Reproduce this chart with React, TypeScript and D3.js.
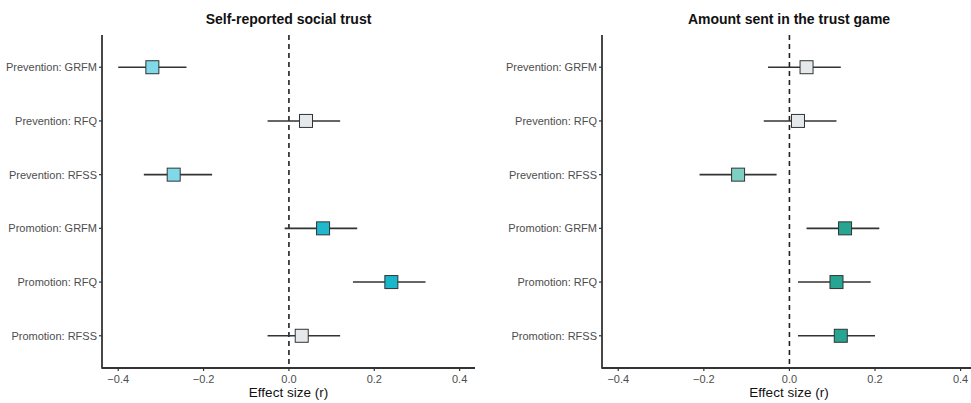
import React from "react";
import * as d3 from "d3";

const categories = [
  "Prevention: GRFM",
  "Prevention: RFQ",
  "Prevention: RFSS",
  "Promotion: GRFM",
  "Promotion: RFQ",
  "Promotion: RFSS",
];
const xTicks = [-0.4, -0.2, 0, 0.2, 0.4];

// self-reported social trust
const trustEst = [-0.32, 0.04, -0.27, 0.08, 0.24, 0.03];
const trustLo = [-0.4, -0.05, -0.34, -0.01, 0.15, -0.05];
const trustHi = [-0.24, 0.12, -0.18, 0.16, 0.32, 0.12];
const trustFill = ["#80d9e8", "#e6e9eb", "#80d9e8", "#1fb8cc", "#1ab6cb", "#e6e9eb"];

// amount sent in the trust game
const sentEst = [0.04, 0.02, -0.12, 0.13, 0.11, 0.12];
const sentLo = [-0.05, -0.06, -0.21, 0.04, 0.02, 0.02];
const sentHi = [0.12, 0.11, -0.03, 0.21, 0.19, 0.2];
const sentFill = ["#e6e9eb", "#e6e9eb", "#7dcfc1", "#27a593", "#27a593", "#27a593"];

const FONT = "'Liberation Sans', Arial, sans-serif";
const W = 971;
const H = 403;

type PanelProps = {
  title: string;
  left: number;
  right: number;
  est: number[];
  lo: number[];
  hi: number[];
  fill: string[];
};

const Panel = ({ title, left, right, est, lo, hi, fill }: PanelProps) => {
  const top = 35;
  const bottom = 368;
  const x = d3.scaleLinear().domain([-0.438, 0.436]).range([left, right]);
  const y = d3.scalePoint().domain(categories).range([top, bottom]).padding(0.6);
  const fmt = d3.format(".1f");
  const sq = 13;

  return (
    <g>
      <text
        x={(left + right) / 2}
        y={24}
        textAnchor="middle"
        fontFamily={FONT}
        fontWeight="bold"
        fontSize={14}
        fill="#111"
      >
        {title}
      </text>

      {/* zero reference */}
      <line
        x1={x(0)}
        x2={x(0)}
        y1={top}
        y2={bottom}
        stroke="#222"
        strokeWidth={1.6}
        strokeDasharray="5,4"
      />

      {/* error bars + points */}
      {categories.map((c, i) => (
        <g key={c}>
          <line
            x1={x(lo[i])}
            x2={x(hi[i])}
            y1={y(c)}
            y2={y(c)}
            stroke="#333"
            strokeWidth={1.6}
          />
          <rect
            x={x(est[i]) - sq / 2}
            y={(y(c) as number) - sq / 2}
            width={sq}
            height={sq}
            fill={fill[i]}
            stroke="#333"
            strokeWidth={1}
          />
        </g>
      ))}

      {/* axes */}
      <line x1={left} x2={left} y1={top} y2={bottom + 0.8} stroke="#333" strokeWidth={1.8} />
      <line x1={left} x2={right} y1={bottom} y2={bottom} stroke="#333" strokeWidth={1.8} />

      {categories.map((c) => (
        <g key={c}>
          <line x1={left - 3} x2={left} y1={y(c)} y2={y(c)} stroke="#333" strokeWidth={1.2} />
          <text
            x={left - 5}
            y={(y(c) as number) + 4}
            textAnchor="end"
            fontFamily={FONT}
            fontSize={11}
            fill="#4d4d4d"
          >
            {c}
          </text>
        </g>
      ))}

      {xTicks.map((t) => (
        <g key={t}>
          <line x1={x(t)} x2={x(t)} y1={bottom} y2={bottom + 3} stroke="#333" strokeWidth={1.2} />
          <text
            x={x(t)}
            y={bottom + 15}
            textAnchor="middle"
            fontFamily={FONT}
            fontSize={11}
            fill="#4d4d4d"
          >
            {fmt(t)}
          </text>
        </g>
      ))}

      <text
        x={(left + right) / 2}
        y={397}
        textAnchor="middle"
        fontFamily={FONT}
        fontSize={13.5}
        fill="#111"
      >
        Effect size (r)
      </text>
    </g>
  );
};

export default function App() {
  return (
    <svg
      width={W}
      height={H}
      style={{ position: "absolute", left: 0, top: 0, background: "#fff" }}
    >
      <rect width={W} height={H} fill="#fff" />
      <Panel
        title="Self-reported social trust"
        left={102}
        right={475}
        est={trustEst}
        lo={trustLo}
        hi={trustHi}
        fill={trustFill}
      />
      <Panel
        title="Amount sent in the trust game"
        left={602}
        right={976}
        est={sentEst}
        lo={sentLo}
        hi={sentHi}
        fill={sentFill}
      />
    </svg>
  );
}
